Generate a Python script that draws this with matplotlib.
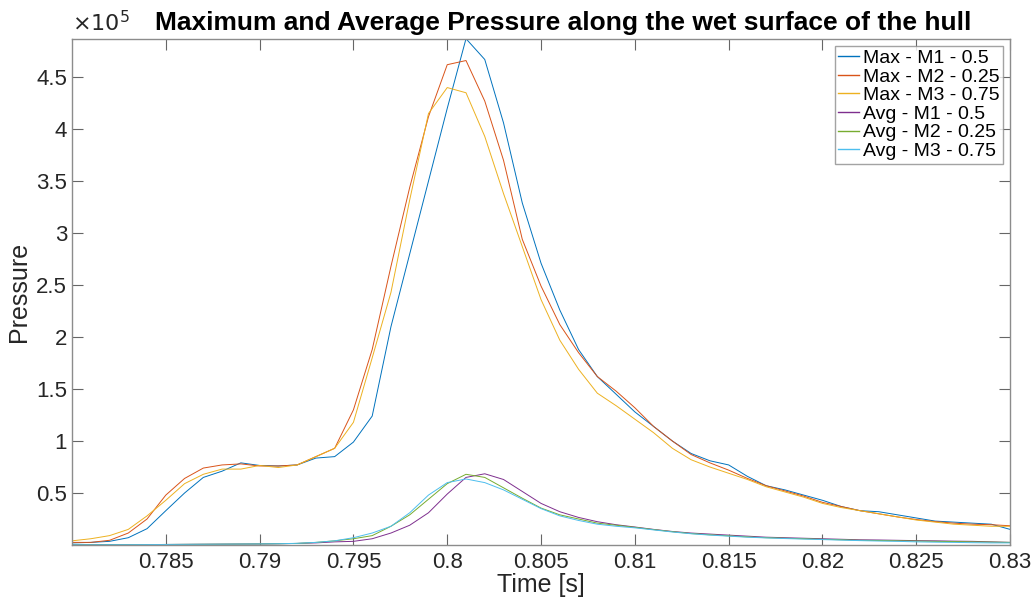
import numpy as np
import matplotlib
matplotlib.use("Agg")
import matplotlib.pyplot as plt
from matplotlib.ticker import FuncFormatter

plt.rcParams['font.family'] = ['Liberation Sans', 'DejaVu Sans']

# Time samples [s]
time = [0.780, 0.781, 0.782, 0.783, 0.784, 0.785, 0.786, 0.787, 0.788, 0.789,
        0.790, 0.791, 0.792, 0.793, 0.794, 0.795, 0.796, 0.797, 0.798, 0.799,
        0.800, 0.801, 0.802, 0.803, 0.804, 0.805, 0.806, 0.807, 0.808, 0.809,
        0.810, 0.811, 0.812, 0.813, 0.814, 0.815, 0.816, 0.817, 0.818, 0.819,
        0.820, 0.821, 0.822, 0.823, 0.824, 0.825, 0.826, 0.827, 0.828, 0.829,
        0.830]

SCALE = 1e5  # values below are in units of 1e5 Pa

max_m1 = [0.02, 0.025, 0.035, 0.07, 0.157, 0.33, 0.50, 0.65, 0.71, 0.79,
          0.765, 0.76, 0.77, 0.836, 0.85, 0.99, 1.24, 2.10, 2.80, 3.50,
          4.20, 4.87, 4.67, 4.06, 3.29, 2.71, 2.26, 1.88, 1.62, 1.45,
          1.28, 1.14, 1.00, 0.88, 0.81, 0.77, 0.66, 0.57, 0.53, 0.48,
          0.43, 0.37, 0.33, 0.32, 0.29, 0.26, 0.23, 0.22, 0.21, 0.20,
          0.15]
max_m2 = [0.025, 0.025, 0.045, 0.115, 0.25, 0.48, 0.64, 0.74, 0.77, 0.78,
          0.76, 0.76, 0.77, 0.85, 0.93, 1.30, 1.88, 2.68, 3.44, 4.12,
          4.62, 4.66, 4.27, 3.70, 2.94, 2.49, 2.12, 1.85, 1.62, 1.48,
          1.32, 1.14, 1.00, 0.87, 0.79, 0.72, 0.64, 0.57, 0.52, 0.47,
          0.41, 0.37, 0.33, 0.30, 0.27, 0.245, 0.225, 0.21, 0.20, 0.195,
          0.185]
max_m3 = [0.04, 0.06, 0.09, 0.15, 0.28, 0.43, 0.59, 0.68, 0.73, 0.73,
          0.765, 0.745, 0.77, 0.85, 0.93, 1.18, 1.80, 2.43, 3.32, 4.15,
          4.40, 4.35, 3.93, 3.38, 2.87, 2.36, 1.97, 1.69, 1.46, 1.34,
          1.21, 1.08, 0.93, 0.82, 0.75, 0.69, 0.63, 0.56, 0.51, 0.46,
          0.40, 0.36, 0.33, 0.30, 0.27, 0.24, 0.22, 0.20, 0.19, 0.18,
          0.18]
avg_m1 = [0.002, 0.002, 0.003, 0.003, 0.004, 0.005, 0.006, 0.007, 0.008, 0.009,
          0.010, 0.012, 0.015, 0.02, 0.03, 0.035, 0.06, 0.115, 0.19, 0.31,
          0.49, 0.65, 0.685, 0.63, 0.515, 0.40, 0.32, 0.265, 0.224, 0.195,
          0.173, 0.15, 0.13, 0.115, 0.105, 0.095, 0.085, 0.075, 0.07, 0.065,
          0.06, 0.055, 0.05, 0.048, 0.045, 0.042, 0.04, 0.037, 0.035, 0.03,
          0.025]
avg_m2 = [0.002, 0.002, 0.003, 0.003, 0.004, 0.005, 0.006, 0.007, 0.008, 0.009,
          0.010, 0.012, 0.015, 0.025, 0.04, 0.06, 0.09, 0.18, 0.29, 0.44,
          0.59, 0.68, 0.65, 0.55, 0.45, 0.355, 0.29, 0.25, 0.21, 0.19,
          0.17, 0.148, 0.128, 0.11, 0.098, 0.088, 0.078, 0.07, 0.065, 0.06,
          0.055, 0.05, 0.045, 0.043, 0.04, 0.038, 0.035, 0.033, 0.03, 0.028,
          0.025]
avg_m3 = [0.002, 0.002, 0.003, 0.003, 0.004, 0.005, 0.006, 0.007, 0.008, 0.009,
          0.010, 0.012, 0.016, 0.025, 0.04, 0.07, 0.115, 0.18, 0.31, 0.48,
          0.60, 0.635, 0.60, 0.53, 0.44, 0.35, 0.28, 0.236, 0.20, 0.18,
          0.165, 0.145, 0.125, 0.108, 0.095, 0.085, 0.075, 0.068, 0.062, 0.057,
          0.052, 0.047, 0.042, 0.038, 0.035, 0.03, 0.027, 0.025, 0.022, 0.02,
          0.02]

labels = ['Max - M1 - 0.5', 'Max - M2 - 0.25', 'Max - M3 - 0.75',
          'Avg - M1 - 0.5', 'Avg - M2 - 0.25', 'Avg - M3 - 0.75']
colors = ['#0072BD', '#D95319', '#EDB120', '#7E2F8E', '#77AC30', '#4DBEEE']

xticks = [0.785, 0.79, 0.795, 0.8, 0.805, 0.81, 0.815, 0.82, 0.825, 0.83]
yticks = [0.5, 1, 1.5, 2, 2.5, 3, 3.5, 4, 4.5]

fig = plt.figure(figsize=(10.36, 6.01), dpi=100)
ax = fig.add_axes([0.0695, 0.0932, 0.9055, 0.8424])

t = np.array(time)
series = [max_m1, max_m2, max_m3, avg_m1, avg_m2, avg_m3]
for s, c, lab in zip(series, colors, labels):
    ax.plot(t, np.array(s) * SCALE, color=c, lw=0.7, label=lab)

ax.set_xlim(0.780, 0.830)
ax.set_ylim(0, 4.87 * SCALE)
ax.set_xticks(xticks)
ax.set_yticks([v * SCALE for v in yticks])
ax.xaxis.set_major_formatter(FuncFormatter(lambda v, p: f"{v:g}"))
ax.yaxis.set_major_formatter(FuncFormatter(lambda v, p: f"{v / SCALE:g}"))

ax.tick_params(direction='in', length=8, width=0.8, color='#666666',
               labelsize=16, labelcolor='#262626', top=True, right=True)
ax.tick_params(axis='x', pad=5)
for sp in ax.spines.values():
    sp.set_color('#8c8c8c')
    sp.set_linewidth(1.0)

ax.set_xlabel('Time [s]', fontsize=18, color='#262626', labelpad=0)
ax.set_ylabel('Pressure', fontsize=18, color='#262626', labelpad=4)
ax.set_title('Maximum and Average Pressure along the wet surface of the hull',
             fontsize=19, fontweight='bold', pad=6, x=0.524)

ax.text(0.0, 1.005, r'$\times10^{5}$', transform=ax.transAxes, fontsize=16,
        color='#262626', ha='left', va='bottom')

leg = ax.legend(loc='upper right', fontsize=14, frameon=True, fancybox=False,
                borderaxespad=0.35, handlelength=1.05, handletextpad=0.2,
                labelspacing=0.05, borderpad=0.2)
leg.get_frame().set_edgecolor('#8c8c8c')
leg.get_frame().set_linewidth(1.0)
for line in leg.get_lines():
    line.set_linewidth(1.0)
for txt in leg.get_texts():
    txt.set_color('black')

fig.savefig('out.png', dpi=100)
